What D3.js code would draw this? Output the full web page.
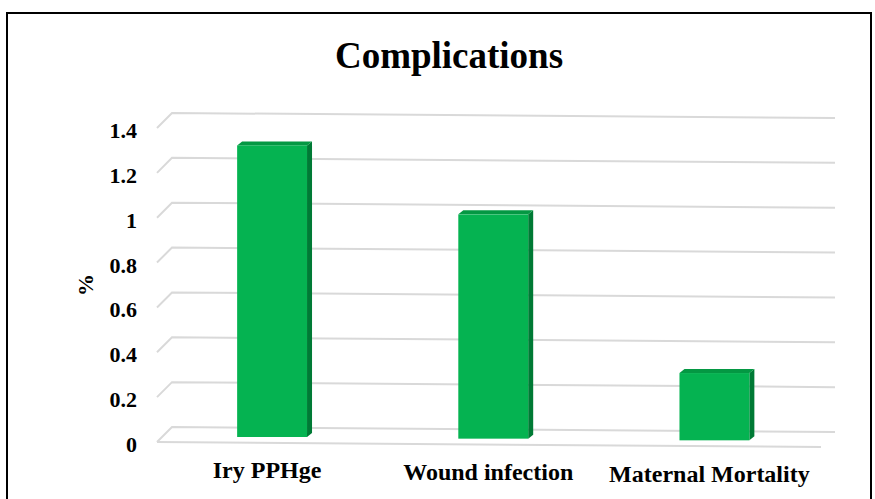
<!DOCTYPE html>
<html>
<head>
<meta charset="utf-8">
<script src="https://cdn.jsdelivr.net/npm/d3@7"></script>
<style>
  body { margin: 0; background: #fff; }
  text { font-family: "Liberation Serif", "Times New Roman", serif; font-weight: bold; fill: #000; }
</style>
</head>
<body>
<div id="chart"></div>
<script>
// data
var categories = ["Iry PPHge", "Wound infection", "Maternal Mortality"];
var values = [1.3, 1.0, 0.3];
var yTicks = [0, 0.2, 0.4, 0.6, 0.8, 1, 1.2, 1.4];

var width = 875, height = 499;

var svg = d3.select("#chart").append("svg")
    .attr("width", width)
    .attr("height", height);

// outer frame
svg.append("rect")
    .attr("x", 7).attr("y", 13)
    .attr("width", 864).attr("height", 520)
    .attr("fill", "none")
    .attr("stroke", "#000")
    .attr("stroke-width", 2);

// title
svg.append("text")
    .attr("x", 449).attr("y", 68)
    .attr("text-anchor", "middle")
    .style("font-size", "37px")
    .text("Complications");

// back wall scale (value -> y at the left edge of the back wall)
var y = d3.scaleLinear().domain([0, 1.4]).range([427, 113]);

// little perspective tilt of the back lines
var backLeft = 172, backRight = 835, depth = 15;
function tilt(px) { return (px - backLeft) * 5 / 663; }

// categories along the front
var x = d3.scaleBand()
    .domain(categories)
    .range([161.5, 825])
    .paddingInner(0.684)
    .paddingOuter(0.342);

var grid = svg.append("g").attr("class", "grid");

// gridlines: short diagonal from the side wall then across the back wall
yTicks.forEach(function(t) {
    var yb = y(t);
    grid.append("path")
        .attr("d", "M" + (backLeft - depth) + "," + (yb + depth) +
                   "L" + backLeft + "," + yb +
                   "L" + backRight + "," + (yb + tilt(backRight)))
        .attr("fill", "none")
        .attr("stroke", "#d9d9d9")
        .attr("stroke-width", 2);
});

// front edge of the floor
grid.append("line")
    .attr("x1", backLeft - depth).attr("y1", y(0) + depth)
    .attr("x2", 821).attr("y2", y(0) + depth + tilt(821 + depth))
    .attr("stroke", "#d9d9d9")
    .attr("stroke-width", 2);

// y tick labels
svg.append("g").selectAll("text")
    .data(yTicks)
    .enter().append("text")
    .attr("x", 137)
    .attr("y", function(d) { return y(d) + 25; })
    .attr("text-anchor", "end")
    .style("font-size", "22px")
    .text(function(d) { return d; });

// y axis title
svg.append("text")
    .attr("transform", "translate(93,285) rotate(-90)")
    .attr("text-anchor", "middle")
    .style("font-size", "22px")
    .text("%");

// bars, drawn as front / top / side faces
var dx = 5, dy = 4, front = 9.5;
var bars = svg.append("g").selectAll("g")
    .data(values.map(function(v, i) { return {cat: categories[i], v: v}; }))
    .enter().append("g");

function yFront(v, px) { return y(v) + front + tilt(px); }

bars.append("path") // side
    .attr("d", function(d) {
        var x0 = x(d.cat), x1 = x0 + x.bandwidth();
        var t = yFront(d.v, x0), b = yFront(0, x0);
        return "M" + x1 + "," + t + "L" + (x1 + dx) + "," + (t - dy) +
               "L" + (x1 + dx) + "," + (b - dy) + "L" + x1 + "," + b + "Z";
    })
    .attr("fill", "#007a35");

bars.append("path") // top
    .attr("d", function(d) {
        var x0 = x(d.cat), x1 = x0 + x.bandwidth();
        var t = yFront(d.v, x0);
        return "M" + x0 + "," + t + "L" + (x0 + dx) + "," + (t - dy) +
               "L" + (x1 + dx) + "," + (t - dy) + "L" + x1 + "," + t + "Z";
    })
    .attr("fill", "#049843");

bars.append("rect") // front
    .attr("x", function(d) { return x(d.cat); })
    .attr("y", function(d) { return yFront(d.v, x(d.cat)); })
    .attr("width", x.bandwidth())
    .attr("height", function(d) { return yFront(0, x(d.cat)) - yFront(d.v, x(d.cat)); })
    .attr("fill", "#05b351");

// category labels
svg.append("g").selectAll("text")
    .data(categories)
    .enter().append("text")
    .attr("x", function(d) { return x(d) + x.bandwidth() / 2 - 5; })
    .attr("y", function(d) { return y(0) + 51 + tilt(x(d)); })
    .attr("text-anchor", "middle")
    .style("font-size", "24px")
    .text(function(d) { return d; });
</script>
</body>
</html>
